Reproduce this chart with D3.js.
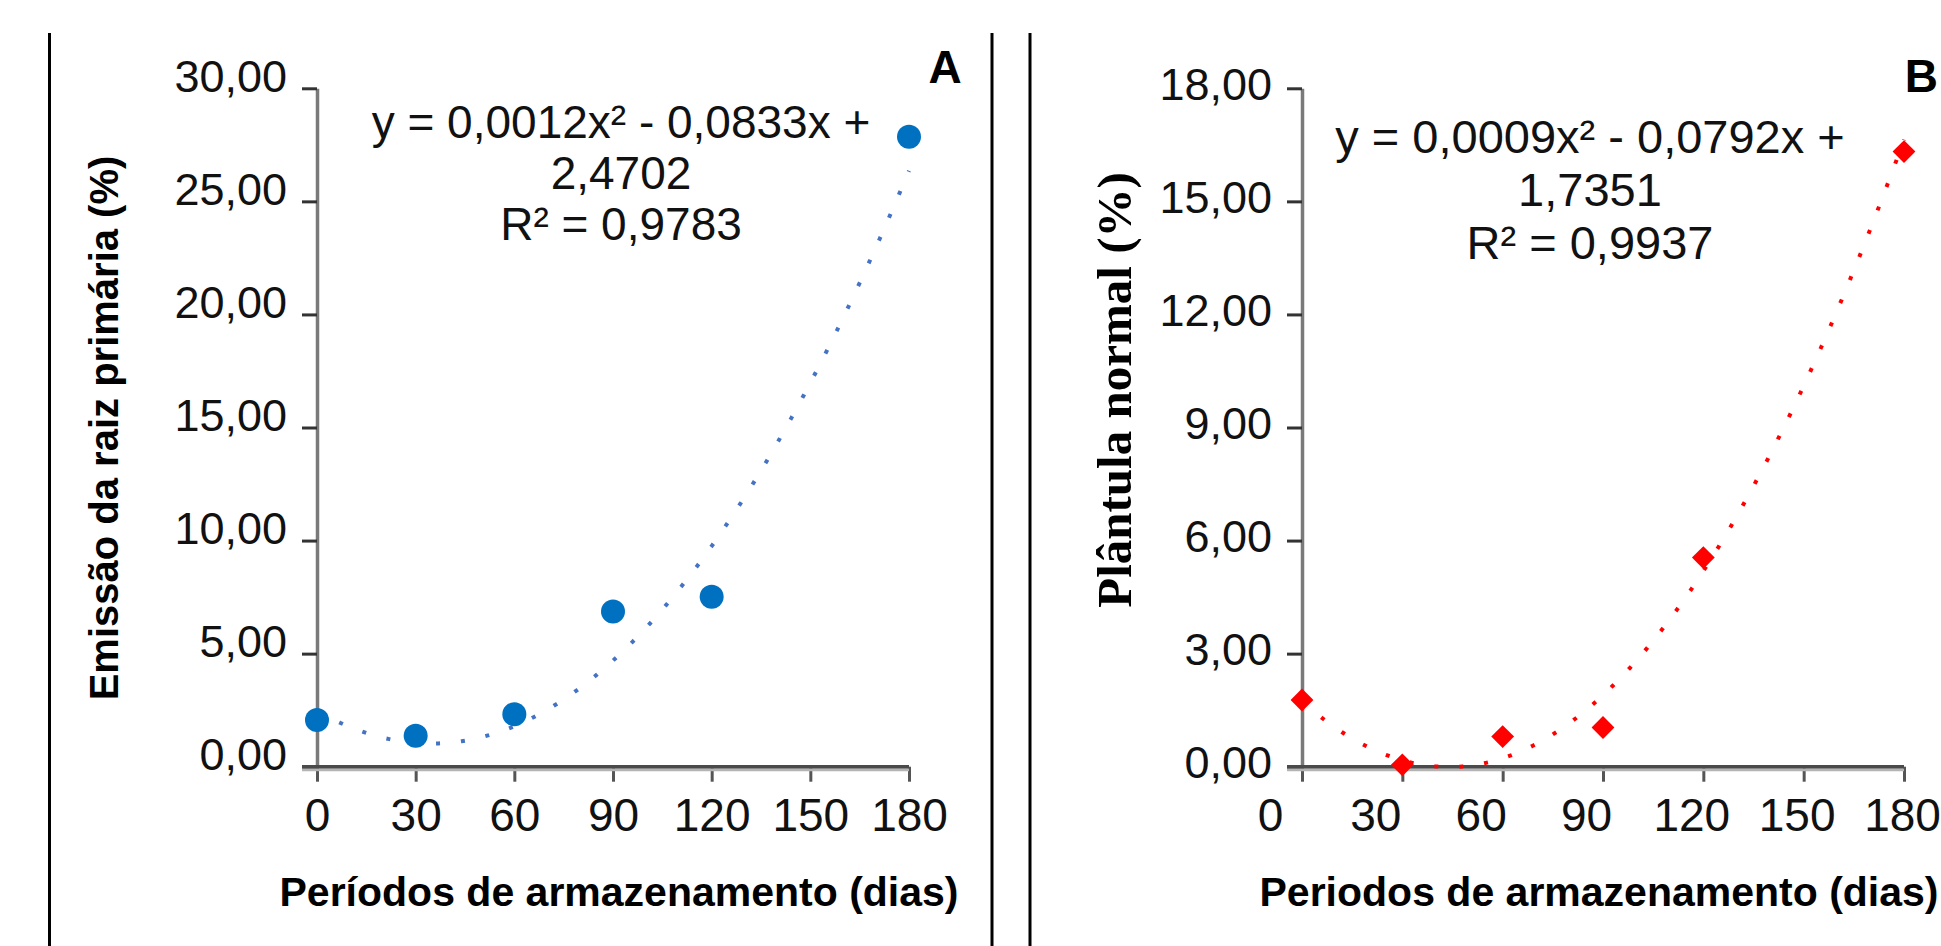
<!DOCTYPE html>
<html>
<head>
<meta charset="utf-8">
<script src="https://cdn.jsdelivr.net/npm/d3@7"></script>
<style>
  html, body { margin: 0; padding: 0; background: #fff; }
  svg { display: block; font-family: "Liberation Sans", Arial, sans-serif; }
</style>
</head>
<body>
<svg id="chart" width="1941" height="946"></svg>
<script>
// storage periods (days)
const days = [0, 30, 60, 90, 120, 180];

// A: primary root emission (%)
const emissaoRaiz = [2.07, 1.37, 2.32, 6.86, 7.52, 27.86];
// B: normal seedlings (%)
const plantulaNormal = [1.77, 0.05, 0.80, 1.04, 5.55, 16.32];

// tick values
const xTicks = [0, 30, 60, 90, 120, 150, 180];
const yTicksA = [0, 5, 10, 15, 20, 25, 30];
const yTicksB = [0, 3, 6, 9, 12, 15, 18];

// polynomial trendline coefficients shown on the chart [a, b, c]
const trendA = [0.0012, -0.0833, 2.4702];
const trendB = [0.0009, -0.0792, 1.7351];

const eqA = ['y = 0,0012x² - 0,0833x +', '2,4702', 'R² = 0,9783'];
const eqB = ['y = 0,0009x² - 0,0792x +', '1,7351', 'R² = 0,9937'];

const svg = d3.select('#chart');

const ptBR = d3.formatLocale({ decimal: ',', thousands: '.', grouping: [3], currency: ['R$', ''] });
const fmt2 = ptBR.format('.2f');

// panel frame lines
svg.selectAll('line.frame')
  .data([49.5, 992, 1030])
  .enter()
  .append('line')
  .attr('class', 'frame')
  .attr('x1', d => d).attr('x2', d => d)
  .attr('y1', 33).attr('y2', 946)
  .attr('stroke', '#000')
  .attr('stroke-width', 3);

function drawPanel(opts) {
  const x = d3.scaleLinear().domain([0, 180]).range(opts.xRange);
  const y = d3.scaleLinear().domain([0, opts.yMax]).range([766.7, 88.3]);
  const g = svg.append('g');

  // y axis
  const yAxis = g.append('g')
    .attr('transform', `translate(${opts.xRange[0]},0)`)
    .call(d3.axisLeft(y).tickValues(opts.yTicks).tickSize(15).tickSizeOuter(0).tickPadding(15).tickFormat(fmt2));
  yAxis.select('.domain').attr('stroke', '#7a7a7a').attr('stroke-width', 3.5);
  yAxis.selectAll('.tick line').attr('stroke', '#333').attr('stroke-width', 3);
  yAxis.selectAll('.tick text')
    .attr('dy', opts.yLabelDy)
    .attr('fill', '#111')
    .style('font-size', '45px');

  // x axis
  const xAxis = g.append('g')
    .attr('transform', `translate(0,${y(0)})`)
    .call(d3.axisBottom(x).tickValues(xTicks).tickSize(15).tickSizeOuter(0).tickFormat(d3.format('d')));
  xAxis.select('.domain').remove();
  xAxis.selectAll('.tick line').attr('stroke', '#555').attr('stroke-width', 3);
  xAxis.selectAll('.tick text')
    .attr('y', 64)
    .attr('dy', 0)
    .attr('x', d => opts.xLabel(d) - x(d))
    .attr('fill', '#111')
    .style('font-size', '46px');
  xAxis.append('line')
    .attr('x1', opts.xRange[0] - 15).attr('x2', opts.xRange[1])
    .attr('y1', 3).attr('y2', 3)
    .attr('stroke', '#b4b4b4').attr('stroke-width', 3);
  xAxis.append('line')
    .attr('x1', opts.xRange[0] - 15).attr('x2', opts.xRange[1])
    .attr('y1', 0).attr('y2', 0)
    .attr('stroke', '#4a4a4a').attr('stroke-width', 3.5);

  // trendline (dotted)
  const c = opts.trend;
  const curve = d3.range(0, 180.5, 1).map(t => [t, c[0] * t * t + c[1] * t + c[2]]);
  g.append('path')
    .datum(curve)
    .attr('fill', 'none')
    .attr('stroke', opts.trendColor)
    .attr('stroke-width', 4)
    .attr('stroke-dasharray', '4,21')
    .attr('d', d3.line().x(d => x(d[0])).y(d => y(d[1])));

  // markers
  const pts = days.map((d, i) => ({ x: d, v: opts.values[i] }));
  if (opts.marker === 'circle') {
    g.selectAll('circle.pt')
      .data(pts)
      .enter()
      .append('circle')
      .attr('class', 'pt')
      .attr('cx', d => x(d.x))
      .attr('cy', d => y(d.v))
      .attr('r', 12)
      .attr('fill', opts.color);
  } else {
    g.selectAll('path.pt')
      .data(pts)
      .enter()
      .append('path')
      .attr('class', 'pt')
      .attr('d', d3.symbol(d3.symbolSquare, 260))
      .attr('transform', d => `translate(${x(d.x)},${y(d.v)}) rotate(45)`)
      .attr('fill', opts.color);
  }

  // equation
  const eq = g.append('text')
    .attr('text-anchor', 'middle')
    .attr('fill', '#111')
    .style('font-size', opts.eqSize + 'px');
  eq.selectAll('tspan')
    .data(opts.eq)
    .enter()
    .append('tspan')
    .attr('x', opts.eqX)
    .attr('y', (d, i) => opts.eqY + i * opts.eqStep)
    .text(d => d);

  // x title
  g.append('text')
    .attr('x', opts.xTitleX)
    .attr('y', 906)
    .attr('text-anchor', 'middle')
    .style('font-size', '41px')
    .style('font-weight', 'bold')
    .text(opts.xTitle);

  // y title
  g.append('text')
    .attr('transform', `translate(${opts.yTitleX},${opts.yTitleY}) rotate(-90)`)
    .attr('text-anchor', 'middle')
    .style('font-family', opts.yTitleFont)
    .style('font-size', opts.yTitleSize + 'px')
    .style('font-weight', 'bold')
    .text(opts.yTitle);

  // panel letter
  g.append('text')
    .attr('x', opts.letterX)
    .attr('y', opts.letterY)
    .attr('text-anchor', opts.letterAnchor)
    .style('font-size', '46px')
    .style('font-weight', 'bold')
    .text(opts.letter);
}

const xRangeA = [317, 909];
const xRangeB = [1302, 1904];

drawPanel({
  xRange: xRangeA,
  xLabel: d3.scaleLinear().domain([0, 180]).range(xRangeA),
  yMax: 30,
  yTicks: yTicksA,
  yLabelDy: 3,
  values: emissaoRaiz,
  trend: trendA,
  trendColor: '#4472c4',
  color: '#0070c0',
  marker: 'circle',
  eq: eqA,
  eqX: 621, eqY: 138, eqStep: 51, eqSize: 46,
  xTitle: 'Períodos de armazenamento (dias)',
  xTitleX: 619,
  yTitle: 'Emissão da raiz primária (%)',
  yTitleX: 118, yTitleY: 428,
  yTitleFont: '"Liberation Sans", Arial, sans-serif',
  yTitleSize: 40,
  letter: 'A', letterX: 945, letterY: 83, letterAnchor: 'middle'
});

drawPanel({
  xRange: xRangeB,
  xLabel: d3.scaleLinear().domain([0, 180]).range([1270, 1902]),
  yMax: 18,
  yTicks: yTicksB,
  yLabelDy: 11,
  values: plantulaNormal,
  trend: trendB,
  trendColor: '#ff0000',
  color: '#ff0000',
  marker: 'diamond',
  eq: eqB,
  eqX: 1590, eqY: 153, eqStep: 53, eqSize: 47,
  xTitle: 'Periodos de armazenamento (dias)',
  xTitleX: 1599,
  yTitle: 'Plântula normal (%)',
  yTitleX: 1131, yTitleY: 390,
  yTitleFont: '"Liberation Serif", "Times New Roman", serif',
  yTitleSize: 49,
  letter: 'B', letterX: 1938, letterY: 92, letterAnchor: 'end'
});
</script>
</body>
</html>
